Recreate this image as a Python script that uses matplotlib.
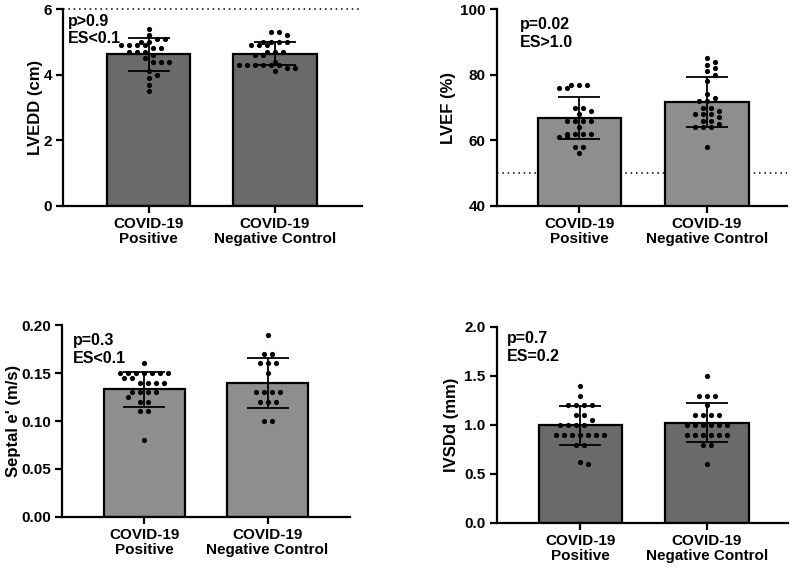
import numpy as np
import matplotlib
matplotlib.use('Agg')
import matplotlib.pyplot as plt

plt.rcParams['font.family'] = ['Liberation Sans', 'DejaVu Sans']
plt.rcParams['font.weight'] = 'bold'
plt.rcParams['axes.labelweight'] = 'bold'

groups = ['COVID-19\nPositive', 'COVID-19\nNegative Control']

# LVEDD (cm)
lvedd_pos = [5.4, 5.2, 5.1, 5.1, 5.0, 5.0, 4.9, 4.9, 4.9, 4.9, 4.8, 4.8, 4.7, 4.7, 4.7,
             4.6, 4.5, 4.4, 4.4, 4.4, 4.1, 4.0, 3.9, 3.7, 3.5]
lvedd_neg = [5.3, 5.3, 5.2, 5.0, 5.0, 5.0, 5.0, 4.9, 4.9, 4.9, 4.7, 4.7, 4.7, 4.6, 4.6,
             4.4, 4.3, 4.3, 4.3, 4.3, 4.3, 4.3, 4.2, 4.2, 4.1]
lvedd_mean = [4.62, 4.64]
lvedd_sd = [0.495, 0.36]

# LVEF (%)
lvef_pos = [77, 77, 77, 76, 76, 70, 70, 69, 68, 66, 66, 66, 66, 64, 62, 62, 62, 62,
            61, 61, 58, 58, 56]
lvef_neg = [85, 84, 83, 82, 81, 80, 78, 74, 73, 72, 72, 70, 70, 69, 68, 68, 68, 67,
            66, 66, 65, 64, 64, 64, 58]
lvef_mean = [66.8, 71.7]
lvef_sd = [6.5, 7.5]

# Septal e' (m/s)
septal_pos = [0.16, 0.15, 0.15, 0.15, 0.15, 0.15, 0.15, 0.15, 0.145, 0.145, 0.14, 0.14,
              0.14, 0.14, 0.13, 0.13, 0.13, 0.13, 0.125, 0.12, 0.12, 0.11, 0.11, 0.08]
septal_neg = [0.19, 0.17, 0.17, 0.16, 0.16, 0.16, 0.15, 0.13, 0.13, 0.13, 0.13,
              0.12, 0.12, 0.12, 0.10, 0.10]
septal_mean = [0.133, 0.140]
septal_sd = [0.018, 0.026]

# IVSDd (mm)
ivsdd_pos = [1.4, 1.3, 1.2, 1.2, 1.2, 1.2, 1.1, 1.1, 1.05, 1.0, 1.0, 1.0, 1.0,
             0.9, 0.9, 0.9, 0.9, 0.9, 0.9, 0.9, 0.8, 0.8, 0.62, 0.6]
ivsdd_neg = [1.5, 1.3, 1.3, 1.3, 1.2, 1.1, 1.1, 1.1, 1.1, 1.0, 1.0, 1.0, 1.0, 1.0, 1.0,
             0.9, 0.9, 0.9, 0.9, 0.9, 0.9, 0.8, 0.8, 0.6]
ivsdd_mean = [0.997, 1.023]
ivsdd_sd = [0.197, 0.197]

dark = '#6a6a6a'
light = '#8e8e8e'

panels = [
    dict(pos=[0.0788, 0.6386, 0.3738, 0.3456], data=[lvedd_pos, lvedd_neg],
         mean=lvedd_mean, sd=lvedd_sd, color=dark, ylim=(0, 6), yticks=[0, 2, 4, 6],
         fmt='{:.0f}', xlim=(-0.68, 1.69), ylabel='LVEDD (cm)', labx=-0.067,
         ann=['p>0.9', 'ES<0.1'], annx=0.017, anny=[0.915, 0.826], hline=6),
    dict(pos=[0.621, 0.6386, 0.3625, 0.3456], data=[lvef_pos, lvef_neg],
         mean=lvef_mean, sd=lvef_sd, color=light, ylim=(40, 100), yticks=[40, 60, 80, 100],
         fmt='{:.0f}', xlim=(-0.65, 1.63), ylabel='LVEF (%)', labx=-0.141,
         ann=['p=0.02', 'ES>1.0'], annx=0.079, anny=[0.897, 0.806], hline=50),
    dict(pos=[0.0775, 0.093, 0.36, 0.3368], data=[septal_pos, septal_neg],
         mean=septal_mean, sd=septal_sd, color=light, ylim=(0, 0.2),
         yticks=[0, 0.05, 0.10, 0.15, 0.20], fmt='{:.2f}', xlim=(-0.67, 1.67),
         ylabel="Septal e' (m/s)", labx=-0.142,
         ann=['p=0.3', 'ES<0.1'], annx=0.038, anny=[0.896, 0.804], hline=None),
    dict(pos=[0.621, 0.0825, 0.364, 0.3439], data=[ivsdd_pos, ivsdd_neg],
         mean=ivsdd_mean, sd=ivsdd_sd, color=dark, ylim=(0, 2),
         yticks=[0, 0.5, 1.0, 1.5, 2.0], fmt='{:.1f}', xlim=(-0.66, 1.64),
         ylabel='IVSDd (mm)', labx=-0.131,
         ann=['p=0.7', 'ES=0.2'], annx=0.034, anny=[0.92, 0.828], hline=None),
]


def swarm(ax, vals, center, step_px=8.0, diam_px=6.5):
    # rows of equal values, each row shifted sideways until it clears the rows above
    vals = np.asarray(vals, dtype=float)
    xpx = ax.transData.transform([(1, 0)])[0, 0] - ax.transData.transform([(0, 0)])[0, 0]
    ypx = ax.transData.transform([(0, 1)])[0, 1] - ax.transData.transform([(0, 0)])[0, 1]
    xs = np.zeros(len(vals))
    placed = []
    for v in sorted(np.unique(vals), reverse=True):
        idx = np.where(vals == v)[0]
        n = len(idx)
        base = (np.arange(n) - (n - 1) / 2) * step_px
        for s in [0, 0.5, -0.5, 1, -1, 1.5, -1.5, 2, -2]:
            cand = base + s * step_px
            ok = True
            for px, py in placed:
                d = np.hypot(cand - px, (v - py) * ypx)
                if np.any(d < diam_px):
                    ok = False
                    break
            if ok:
                break
        for j, c in zip(idx, cand):
            placed.append((c, v))
            xs[j] = center + c / xpx
    return xs


fig = plt.figure(figsize=(8, 5.7), dpi=100)

for p in panels:
    ax = fig.add_axes(p['pos'])
    ax.set_xlim(*p['xlim'])
    ax.set_ylim(*p['ylim'])
    x = np.arange(len(groups))
    ax.bar(x, p['mean'], width=0.66, color=p['color'], edgecolor='black',
           linewidth=1.6, zorder=2)
    ax.errorbar(x, p['mean'], yerr=p['sd'], fmt='none', ecolor='black',
                elinewidth=1.3, capsize=15, capthick=1.3, zorder=3)
    for i, vals in enumerate(p['data']):
        ax.scatter(swarm(ax, vals, x[i]), vals, s=14, color='black', zorder=4,
                   linewidths=0)
    if p['hline'] is not None:
        ax.axhline(p['hline'], color='black', linestyle=(0, (1, 2.5)), linewidth=1.1,
                   zorder=1, clip_on=False)
    for sp in ['top', 'right']:
        ax.spines[sp].set_visible(False)
    for sp in ['left', 'bottom']:
        ax.spines[sp].set_linewidth(1.6)
    ax.set_xticks(x)
    ax.set_xticklabels(groups, fontsize=11, fontweight='bold', linespacing=1.1)
    ax.set_yticks(p['yticks'])
    ax.set_yticklabels([p['fmt'].format(t) for t in p['yticks']], fontsize=11,
                       fontweight='bold')
    ax.tick_params(axis='both', width=1.6, length=5, pad=3)
    ax.set_ylabel(p['ylabel'], fontsize=12, fontweight='bold')
    ax.yaxis.set_label_coords(p['labx'], 0.5)
    for line, yy in zip(p['ann'], p['anny']):
        ax.text(p['annx'], yy, line, transform=ax.transAxes, fontsize=11.5,
                fontweight='bold', va='baseline', ha='left')

fig.savefig('out.png', dpi=100)
